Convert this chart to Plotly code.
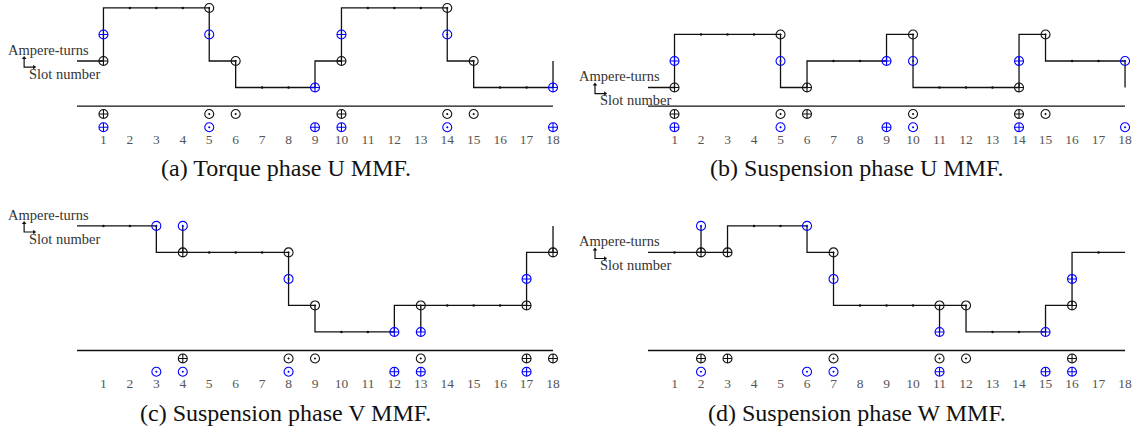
import plotly.graph_objects as go

# ---------------- data ----------------
slots = list(range(1, 19))
slot_labels = [str(s) for s in slots]

# +1 = ⊕ (current into page, MMF steps up), -1 = ⊙ (MMF steps down)
a_caption = "(a) Torque phase U MMF."
a_start = 1
a_black_slots = [1, 5, 6, 10, 14, 15]
a_black_dirs = [1, -1, -1, 1, -1, -1]
a_blue_slots = [1, 5, 9, 10, 14, 18]
a_blue_dirs = [1, -1, 1, 1, -1, 1]

b_caption = "(b) Suspension phase U MMF."
b_start = 0
b_black_slots = [1, 5, 6, 10, 14, 15]
b_black_dirs = [1, -1, 1, -1, 1, -1]
b_blue_slots = [1, 5, 9, 10, 14, 18]
b_blue_dirs = [1, -1, 1, -1, 1, -1]

c_caption = "(c) Suspension phase V MMF."
c_start = 4
c_black_slots = [4, 8, 9, 13, 17, 18]
c_black_dirs = [1, -1, -1, -1, 1, 1]
c_blue_slots = [3, 4, 8, 12, 13, 17]
c_blue_dirs = [-1, -1, -1, 1, 1, 1]

d_caption = "(d) Suspension phase W MMF."
d_start = 3
d_black_slots = [2, 3, 7, 11, 12, 16]
d_black_dirs = [1, 1, -1, -1, -1, 1]
d_blue_slots = [2, 6, 7, 11, 15, 16]
d_blue_dirs = [-1, -1, -1, 1, 1, 1]

panels = [
    (a_caption, a_start, a_black_slots, a_black_dirs, a_blue_slots, a_blue_dirs),
    (b_caption, b_start, b_black_slots, b_black_dirs, b_blue_slots, b_blue_dirs),
    (c_caption, c_start, c_black_slots, c_black_dirs, c_blue_slots, c_blue_dirs),
    (d_caption, d_start, d_black_slots, d_black_dirs, d_blue_slots, d_blue_dirs),
]

# ---------------- styling ----------------
FONT = "Liberation Serif"
BLACK = "#111111"
BLUE = "#0000ff"
SYM = {1: "circle-cross-open", -1: "circle-open-dot"}

BASE_Y = -0.7     # conductor baseline
ROW_BLACK = -1.0
ROW_BLUE = -1.5
ROW_NUM = -2.0
CAP_Y = -3.05

fig = go.Figure()

# axis geometry: (x domain, y domain, x range, y range)
geom = [
    ([0.0, 0.5], [0.5, 1.0], [-2.912, 18.68], [-4.79, 3.30]),
    ([0.5, 1.0], [0.5, 1.0], [-2.906, 18.64], [-4.79, 3.30]),
    ([0.0, 0.5], [0.0, 0.5], [-2.912, 18.68], [-3.66, 4.43]),
    ([0.5, 1.0], [0.0, 0.5], [-2.906, 18.64], [-3.66, 4.43]),
]


def build(start, bs, bd, us, ud):
    level = start
    xs, ys = [0], [level]
    black, blue, dots = [], [], []
    for s in slots:
        xs.append(s)
        ys.append(level)
        events = []
        if s in bs:
            events.append(("k", bd[bs.index(s)]))
        if s in us:
            events.append(("b", ud[us.index(s)]))
        if not events and s < slots[-1]:
            dots.append((s, level))
        for c, d in events:
            (black if c == "k" else blue).append((s, level, d))
            level += d
            xs.append(s)
            ys.append(level)
    return xs, ys, black, blue, dots


for i, (cap, start, bs, bd, us, ud) in enumerate(panels):
    n = "" if i == 0 else str(i + 1)
    xr, yr = "x" + n, "y" + n
    xd, yd, xrange_, yrange_ = geom[i]
    fig.layout["xaxis" + n] = dict(domain=xd, range=xrange_, visible=False,
                                   anchor=yr, fixedrange=True)
    fig.layout["yaxis" + n] = dict(domain=yd, range=yrange_, visible=False,
                                   anchor=xr, fixedrange=True)

    xs, ys, black, blue, dots = build(start, bs, bd, us, ud)

    # MMF step line
    fig.add_trace(go.Scatter(x=xs, y=ys, mode="lines", xaxis=xr, yaxis=yr,
                             line=dict(color=BLACK, width=1.3), hoverinfo="skip"))
    # slot tick dots on the MMF line
    fig.add_trace(go.Scatter(x=[p[0] for p in dots], y=[p[1] for p in dots],
                             mode="markers", xaxis=xr, yaxis=yr,
                             marker=dict(color=BLACK, size=2.5, symbol="circle"),
                             hoverinfo="skip"))
    # baseline
    fig.add_trace(go.Scatter(x=[0, slots[-1]], y=[BASE_Y, BASE_Y], mode="lines",
                             xaxis=xr, yaxis=yr,
                             line=dict(color=BLACK, width=1.3), hoverinfo="skip"))
    # conductors on MMF curve
    for pts, col in ((black, BLACK), (blue, BLUE)):
        fig.add_trace(go.Scatter(
            x=[p[0] for p in pts], y=[p[1] for p in pts], mode="markers",
            xaxis=xr, yaxis=yr,
            marker=dict(symbol=[SYM[p[2]] for p in pts], size=9, color=col,
                        line=dict(color=col, width=1.1)),
            hoverinfo="skip"))
    # conductor rows under baseline
    for sl, dr, row, col in ((bs, bd, ROW_BLACK, BLACK), (us, ud, ROW_BLUE, BLUE)):
        fig.add_trace(go.Scatter(
            x=sl, y=[row] * len(sl), mode="markers", xaxis=xr, yaxis=yr,
            marker=dict(symbol=[SYM[d] for d in dr], size=9, color=col,
                        line=dict(color=col, width=1.1)),
            hoverinfo="skip"))
    # slot numbers
    fig.add_trace(go.Scatter(x=slots, y=[ROW_NUM] * len(slots), mode="text",
                             text=slot_labels, xaxis=xr, yaxis=yr,
                             textfont=dict(family=FONT, size=13.5, color="#555555"),
                             hoverinfo="skip"))
    # caption
    fig.add_annotation(text=cap, x=0.5, y=CAP_Y, xref=xr + " domain", yref=yr,
                       showarrow=False, xanchor="center", yanchor="middle",
                       font=dict(family=FONT, size=24, color="#111111"))
    # axis legend: labels and little L-shaped arrows
    fig.add_annotation(text="Ampere-turns", x=-2.68, y=start + 0.42, xref=xr, yref=yr,
                       showarrow=False, xanchor="left", yanchor="middle",
                       font=dict(family=FONT, size=14.5, color="#333333"))
    fig.add_annotation(text="Slot number", x=-1.89, y=start - 0.49, xref=xr, yref=yr,
                       showarrow=False, xanchor="left", yanchor="middle",
                       font=dict(family=FONT, size=14.5, color="#333333"))
    ox, oy = -2.0, start - 0.23
    fig.add_trace(go.Scatter(x=[ox, ox, ox + 0.38], y=[oy + 0.34, oy, oy],
                             mode="lines", xaxis=xr, yaxis=yr,
                             line=dict(color=BLACK, width=1.2), hoverinfo="skip"))
    fig.add_trace(go.Scatter(x=[ox, ox + 0.38], y=[oy + 0.34, oy], mode="markers",
                             xaxis=xr, yaxis=yr,
                             marker=dict(symbol=["triangle-up", "triangle-right"],
                                         size=4, color=BLACK),
                             hoverinfo="skip"))

fig.update_layout(width=1142, height=429, margin=dict(l=0, r=0, t=0, b=0),
                  paper_bgcolor="white", plot_bgcolor="white", showlegend=False)

fig.write_html("out.html")
